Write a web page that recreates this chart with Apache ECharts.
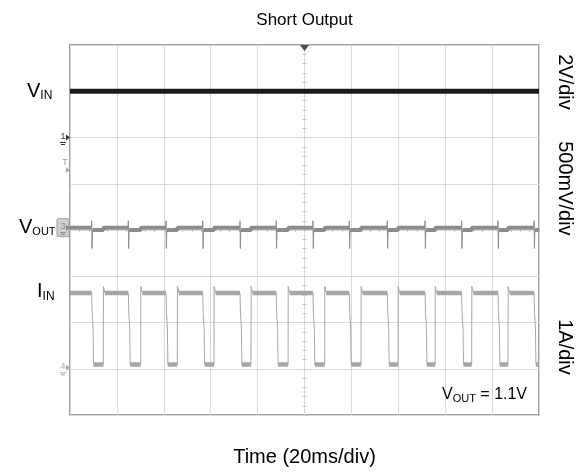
<!DOCTYPE html>
<html>
<head>
<meta charset="utf-8">
<script src="https://cdn.jsdelivr.net/npm/echarts@6/dist/echarts.min.js"></script>
<style>html,body{margin:0;padding:0;background:#fff}#c{width:576px;height:472px}</style>
</head>
<body>
<div id="c"></div>
<script>
// ---- data (time in ms, levels in divisions from bottom) ----
const fallMs = [9.25, 24.86, 40.94, 56.59, 72.49, 87.94, 103.6, 119.1, 135.3, 151.4, 167.0, 182.5, 197.9];
const riseMs = [14.2, 30.15, 45.76, 61.41, 77.19, 93.0, 108.6, 124.1, 139.9, 155.7, 171.3, 186.8];
const vinLevel = [7.0, 7.0];
const voutLevels = { high: 4.05, low: 4.0, spikeUp: 4.2, spikeDown: 3.6 };
const iinLevels = { high: 2.64, low: 1.09, overshoot: 2.78 };
const timeSpan = [0, 200];
const rightLabels = ['2V/div', '500mV/div', '1A/div'];

const FONT = '"Liberation Sans", Arial, sans-serif';

// ---- build traces ----
function buildIin() {
  const H = iinLevels.high, L = iinLevels.low, O = iinLevels.overshoot;
  const thin = [[timeSpan[0], H]];
  const band = [[timeSpan[0], H]];
  for (let i = 0; i < fallMs.length; i++) {
    const f = fallMs[i];
    thin.push([f, H], [f + 0.2, (H + L) / 2 + 0.35], [f + 0.6, (H + L) / 2], [f + 0.8, L]);
    band.push([f, H], [f + 0.01, null], [f + 0.8, L]);
    if (i < riseMs.length) {
      const r = riseMs[i];
      thin.push([r, L], [r + 0.05, O], [r + 0.5, O], [r + 0.7, H]);
      band.push([r, L], [r + 0.01, null], [r + 0.7, H]);
    } else {
      thin.push([timeSpan[1], L]);
      band.push([timeSpan[1], L]);
    }
  }
  return { thin, band };
}
function buildVout() {
  const V = voutLevels;
  const thin = [[timeSpan[0], V.high]];
  const band = [[timeSpan[0], V.high]];
  for (let i = 0; i < fallMs.length; i++) {
    const f = fallMs[i];
    thin.push([f - 0.05, V.high], [f, V.spikeUp], [f + 0.15, V.spikeDown], [f + 0.35, V.low]);
    band.push([f, V.high], [f + 0.01, null], [f + 0.35, V.low]);
    if (i < riseMs.length) {
      const r = riseMs[i];
      thin.push([r, V.low], [r + 0.05, V.high]);
      band.push([r, V.low], [r + 0.05, V.high]);
    } else {
      thin.push([timeSpan[1], V.low]);
      band.push([timeSpan[1], V.low]);
    }
  }
  return { thin, band };
}
const iin = buildIin();
const vout = buildVout();

const chart = echarts.init(document.getElementById('c'), null, { renderer: 'canvas' });
const gridLine = '#d9d9d9';
const centerAxis = (inside, dim) => ({
  type: 'value', gridIndex: 0,
  min: dim === 'x' ? -100 : -4, max: dim === 'x' ? 100 : 4, interval: dim === 'x' ? 20 : 1,
  axisLine: { show: true, onZero: true, onZeroAxisIndex: 1, lineStyle: { color: gridLine, width: 1 } },
  axisTick: { show: true, inside: inside, length: 2, lineStyle: { color: '#c4c4c4' } },
  minorTick: { show: true, splitNumber: 5, length: 2, lineStyle: { color: '#c4c4c4' } },
  axisLabel: { show: false }, splitLine: { show: false }
});

chart.setOption({
  animation: false,
  grid: { left: 70, top: 45, width: 469, height: 370, show: true, borderColor: '#7f7f7f', borderWidth: 1.5, backgroundColor: 'transparent' },
  xAxis: [
    { type: 'value', min: timeSpan[0], max: timeSpan[1], interval: 20,
      axisLine: { show: false }, axisTick: { show: false }, axisLabel: { show: false },
      splitLine: { show: true, lineStyle: { color: gridLine, width: 1 } } },
    centerAxis(true, 'x'), centerAxis(false, 'x')
  ],
  yAxis: [
    { type: 'value', min: 0, max: 8, interval: 1,
      axisLine: { show: false }, axisTick: { show: false }, axisLabel: { show: false },
      splitLine: { show: true, lineStyle: { color: gridLine, width: 1 } } },
    centerAxis(true, 'y'), centerAxis(false, 'y')
  ],
  series: [
    { type: 'line', name: 'VIN', data: [[timeSpan[0], vinLevel[0]], [timeSpan[1], vinLevel[1]]],
      showSymbol: false, lineStyle: { color: '#1c1c1c', width: 5 }, z: 5,
      markPoint: { symbol: 'triangle', symbolRotate: 180, symbolSize: [9, 6], symbolOffset: [0, 3],
        itemStyle: { color: '#4d4d4d' }, label: { show: false },
        data: [{ coord: [100, 8] }] } },
    { type: 'line', name: 'VOUT thin', data: vout.thin, showSymbol: false, connectNulls: false,
      lineStyle: { color: '#8c8c8c', width: 1 }, z: 3 },
    { type: 'line', name: 'VOUT band', data: vout.band, showSymbol: false, connectNulls: false,
      lineStyle: { color: '#8c8c8c', width: 4 }, z: 3 },
    { type: 'line', name: 'IIN thin', data: iin.thin, showSymbol: false, connectNulls: false,
      lineStyle: { color: '#a6a6a6', width: 1 }, z: 3 },
    { type: 'line', name: 'IIN band', data: iin.band, showSymbol: false, connectNulls: false,
      lineStyle: { color: '#a6a6a6', width: 4.5 }, z: 3 }
  ]
});

// ---- text and scope decorations ----
const ctx = document.createElement('canvas').getContext('2d');
function tw(t, size) { ctx.font = size + 'px ' + FONT; return ctx.measureText(t).width; }
function subLabel(x, cy, main, sub, size, subSize, tail) {
  const els = [];
  els.push({ type: 'text', x: x, y: cy, style: { text: main, font: size + 'px ' + FONT, fill: '#000', verticalAlign: 'middle', align: 'left' } });
  const x2 = x + tw(main, size);
  els.push({ type: 'text', x: x2, y: cy + size * 0.22, style: { text: sub, font: subSize + 'px ' + FONT, fill: '#000', verticalAlign: 'middle', align: 'left' } });
  if (tail) {
    const x3 = x2 + tw(sub, subSize);
    els.push({ type: 'text', x: x3, y: cy, style: { text: tail, font: size + 'px ' + FONT, fill: '#000', verticalAlign: 'middle', align: 'left' } });
  }
  return els;
}
const py = v => chart.convertToPixel({ yAxisIndex: 0 }, v);
const px = v => chart.convertToPixel({ xAxisIndex: 0 }, v);
const cx = px(100);
const left = px(0);

function marker(y, label, color) {
  return [
    { type: 'text', x: left - 7, y: y - 1, style: { text: label, font: '9px ' + FONT, fill: color, align: 'center', verticalAlign: 'middle' } },
    { type: 'polygon', shape: { points: [[left - 4, y - 3], [left, y], [left - 4, y + 3]] }, style: { fill: color } },
    { type: 'line', shape: { x1: left - 10, y1: y + 5, x2: left - 4, y2: y + 5 }, style: { stroke: color, lineWidth: 1 } },
    { type: 'line', shape: { x1: left - 9, y1: y + 7, x2: left - 5, y2: y + 7 }, style: { stroke: color, lineWidth: 1 } }
  ];
}

let g = [];
g.push({ type: 'text', x: cx, y: 20, style: { text: 'Short Output', font: '17px ' + FONT, fill: '#000', align: 'center', verticalAlign: 'middle' } });
g.push({ type: 'text', x: cx, y: 457, style: { text: 'Time (20ms/div)', font: '20px ' + FONT, fill: '#000', align: 'center', verticalAlign: 'middle' } });
const rightY = [py(7.2), py(4.9), py(1.47)];
rightLabels.forEach((t, i) => {
  g.push({ type: 'text', x: 565, y: rightY[i], rotation: -Math.PI / 2,
    style: { text: t, font: '20px ' + FONT, fill: '#000', align: 'center', verticalAlign: 'middle' } });
});
g = g.concat(subLabel(27, py(vinLevel[0]), 'V', 'IN', 20, 12));
g = g.concat(subLabel(19, py(voutLevels.high), 'V', 'OUT', 20, 11));
g = g.concat(subLabel(37, py(iinLevels.high) - 1, 'I', 'IN', 20, 12));
g = g.concat(subLabel(442, 395, 'V', 'OUT', 16, 11, ' = 1.1V'));
g = g.concat(marker(py(6), '1', '#333'));
g.push({ type: 'text', x: left - 5, y: py(5.45), style: { text: 'T', font: '9px ' + FONT, fill: '#999', align: 'center', verticalAlign: 'middle' } });
g.push({ type: 'polygon', shape: { points: [[left - 4, py(5.3) - 3], [left, py(5.3)], [left - 4, py(5.3) + 3]] }, style: { fill: '#aaa' } });
g.push({ type: 'rect', shape: { x: left - 13, y: py(voutLevels.high) - 9, width: 12, height: 18, r: 1 }, style: { fill: '#d0d0d0', stroke: '#a0a0a0', lineWidth: 1 } });
g = g.concat(marker(py(voutLevels.high), '3', '#888'));
g = g.concat(marker(py(1.02), '4', '#aaa'));
chart.setOption({ graphic: { elements: g } });
</script>
</body>
</html>
